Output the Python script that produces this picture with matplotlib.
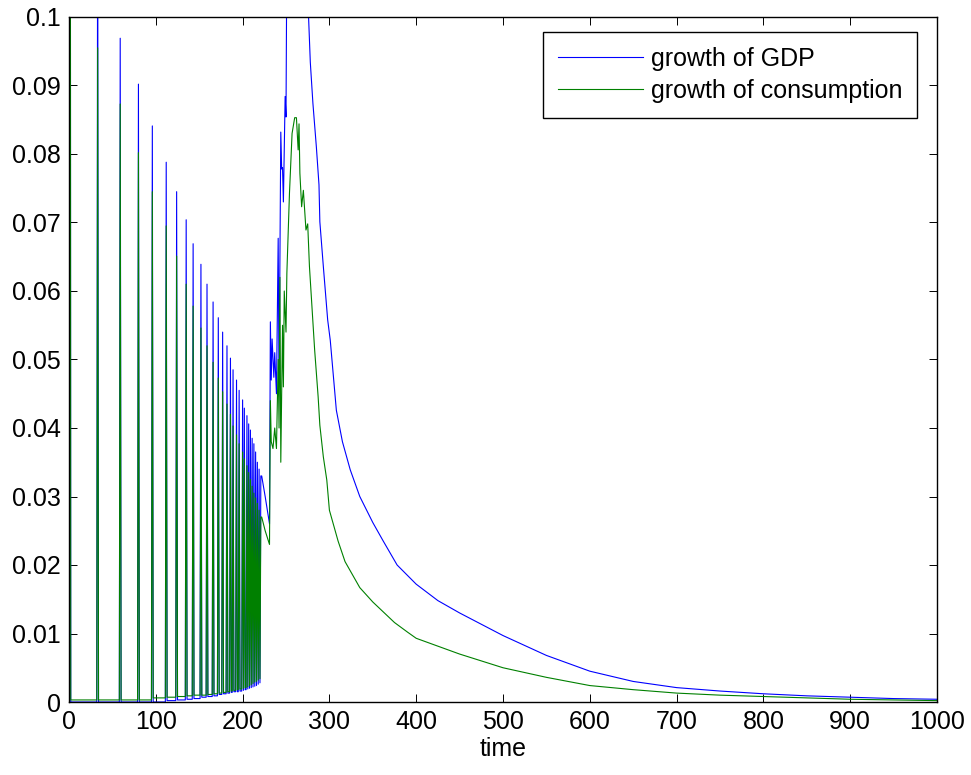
import numpy as np
import matplotlib
matplotlib.use("Agg")
import matplotlib.pyplot as plt

plt.rcParams['font.family'] = ['Liberation Sans', 'DejaVu Sans']

# spike period (t < 222): a one-step spike at each time, baseline in between
spike_t = [1, 33, 59, 80, 96, 112, 124, 135, 143, 152, 159, 166, 172, 177, 182,
           186, 189, 193, 196, 200, 202, 205, 207, 209, 211, 213, 215, 217, 219, 221]
spike_gdp = [0.3, 0.12, 0.0969, 0.0902, 0.0841, 0.0788, 0.0745, 0.0704, 0.0669,
             0.0639, 0.061, 0.0584, 0.0561, 0.054, 0.052, 0.0502, 0.0485, 0.047,
             0.0455, 0.0441, 0.0429, 0.0418, 0.0406, 0.0397, 0.0385, 0.0377,
             0.0365, 0.035, 0.034, 0.033]
spike_cons = [0.3, 0.0955, 0.0873, 0.0802, 0.0745, 0.0695, 0.0651, 0.061, 0.0578,
              0.0546, 0.052, 0.0496, 0.0473, 0.0453, 0.0435, 0.042, 0.0403, 0.039,
              0.0377, 0.0365, 0.0355, 0.0345, 0.0335, 0.0325, 0.0315, 0.0305,
              0.0298, 0.029, 0.028, 0.027]
base_gdp = [0.0, 0.0, 0.0, 0.0, 0.0, 0.0002, 0.0003, 0.0004, 0.0005, 0.0007,
            0.0008, 0.0009, 0.0011, 0.0012, 0.0013, 0.0014, 0.0015, 0.0015,
            0.0016, 0.0017, 0.0018, 0.0019, 0.002, 0.0021, 0.0022, 0.0023,
            0.0024, 0.0026, 0.0028]
base_cons = [0.0003, 0.0003, 0.0003, 0.0003, 0.0006, 0.0007, 0.0008, 0.0009,
             0.001, 0.001, 0.0011, 0.0012, 0.0013, 0.0014, 0.0015, 0.0016,
             0.0017, 0.0018, 0.0019, 0.002, 0.0021, 0.0022, 0.0024, 0.0025,
             0.0027, 0.0029, 0.003, 0.0032, 0.0034]

# after the spikes
tail_t_gdp = [222, 226, 231, 232, 233, 234, 236, 237, 239, 241, 242, 244, 245,
              246, 247, 249, 250, 251, 258, 268, 276, 278, 281, 285, 288, 289,
              293, 298, 301, 308, 315, 324, 335, 350, 362, 378, 400, 425, 450,
              500, 550, 600, 650, 700, 750, 800, 850, 900, 950, 1000]
tail_gdp = [0.033, 0.030, 0.026, 0.0555, 0.047, 0.053, 0.0474, 0.051, 0.045,
            0.0677, 0.046, 0.0832, 0.0778, 0.078, 0.073, 0.0884, 0.0854, 0.11,
            0.13, 0.12, 0.100, 0.0934, 0.0874, 0.081, 0.0755, 0.0701, 0.0636,
            0.0558, 0.0528, 0.0426, 0.038, 0.0339, 0.030, 0.0262, 0.0235,
            0.020, 0.0172, 0.0148, 0.013, 0.0097, 0.0068, 0.0045, 0.0030,
            0.0021, 0.0016, 0.0012, 0.0009, 0.0007, 0.0005, 0.0004]
tail_t_cons = [222, 226, 231, 232, 233, 235, 237, 239, 241, 242, 243, 244, 246,
               247, 248, 250, 251, 254, 257, 260, 262, 264, 265, 266, 268, 270,
               273, 275, 277, 283, 287, 289, 293, 297, 300, 310, 318, 335, 350,
               375, 390, 400, 450, 500, 550, 600, 650, 700, 750, 800, 850, 900,
               950, 1000]
tail_cons = [0.027, 0.025, 0.023, 0.044, 0.038, 0.037, 0.040, 0.037, 0.050,
             0.040, 0.062, 0.035, 0.055, 0.046, 0.060, 0.054, 0.0626, 0.0743,
             0.083, 0.0853, 0.0853, 0.0806, 0.0844, 0.0772, 0.0723, 0.0747,
             0.0689, 0.0698, 0.0636, 0.0514, 0.0446, 0.0404, 0.0358, 0.0324,
             0.028, 0.0235, 0.0205, 0.0167, 0.0146, 0.0116, 0.0102, 0.0093,
             0.0070, 0.0050, 0.0036, 0.0024, 0.0018, 0.0013, 0.0010, 0.0008,
             0.0006, 0.0004, 0.0003, 0.0002]

ytick_labels = ['0', '0.01', '0.02', '0.03', '0.04', '0.05', '0.06', '0.07',
                '0.08', '0.09', '0.1']


def series(sp_t, sp_v, base, tail_t, tail_v):
    t = [0]
    v = [sp_v[0]]
    for k in range(len(sp_t)):
        t.append(sp_t[k])
        v.append(sp_v[k])
        if k < len(sp_t) - 1:
            t += [sp_t[k] + 1, sp_t[k + 1] - 1]
            v += [base[k], base[k]]
    return t + tail_t, v + tail_v


t1, gdp = series(spike_t, spike_gdp, base_gdp, tail_t_gdp, tail_gdp)
t2, cons = series(spike_t, spike_cons, base_cons, tail_t_cons, tail_cons)

fig = plt.figure(figsize=(9.71, 7.75), dpi=100)
ax = fig.add_axes([69 / 971, 1 - 702 / 775, 868 / 971, 685 / 775])
ax.plot(t1, gdp, color=(0, 0, 1), lw=0.8, label='growth of GDP')
ax.plot(t2, cons, color=(0, 0.5, 0), lw=0.8, label='growth of consumption')

ax.set_xlim(0, 1000)
ax.set_ylim(0, 0.1)
ax.set_xticks(np.arange(0, 1001, 100))
ax.set_yticks(np.linspace(0, 0.1, 11))
ax.set_yticklabels(ytick_labels)
ax.tick_params(direction='in', top=True, right=True, length=6, width=0.7,
               labelsize=18, pad=6)
for s in ax.spines.values():
    s.set_linewidth(1.0)
ax.set_xlabel('time', fontsize=18, labelpad=2)

leg = ax.legend(loc='upper right', bbox_to_anchor=(0.977, 0.978),
                fontsize=18, fancybox=False, edgecolor='black', framealpha=1,
                handlelength=3.4, handletextpad=0.3, borderaxespad=0,
                borderpad=0.6, labelspacing=0.3)
leg.get_frame().set_linewidth(1.0)

fig.savefig('out.png', dpi=100)
